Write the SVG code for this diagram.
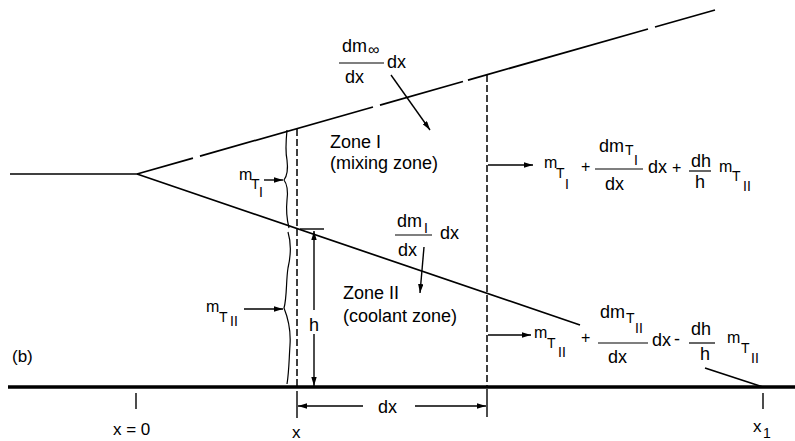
<svg xmlns="http://www.w3.org/2000/svg" width="795" height="441" viewBox="0 0 795 441">
<defs>
<marker id="ah" viewBox="0 0 10 6" refX="10" refY="3" markerWidth="9" markerHeight="5.4" markerUnits="userSpaceOnUse" orient="auto">
<path d="M0,0 L10,3 L0,6 z" fill="#000"/>
</marker>
</defs>
<style>
text{font-family:"Liberation Sans",Arial,sans-serif;fill:#000}
.t{font-size:18px}
.m{font-size:16px}
.s{font-size:14px}
.z{font-size:18px}
.a{font-size:17px}
.ln{stroke:#000;stroke-width:1.7;fill:none}
.th{stroke:#000;stroke-width:1.4;fill:none}
.ds{stroke:#000;stroke-width:1.5;fill:none;stroke-dasharray:7 3}
.ar{stroke:#000;stroke-width:1.4;fill:none;marker-end:url(#ah)}
.br{stroke:#000;stroke-width:1.2;fill:none}
.bar{stroke:#000;stroke-width:1.2}
</style>
<rect width="795" height="441" fill="#fff"/>

<g id="geometry">
<line class="ln" x1="10" y1="174" x2="137" y2="174"/>
<line class="ln" x1="137" y1="174" x2="193" y2="158.1"/>
<line class="ln" x1="200" y1="156.1" x2="373" y2="107"/>
<line class="ln" x1="380" y1="105.1" x2="463" y2="81.5"/>
<line class="ln" x1="468" y1="80.1" x2="648" y2="29"/>
<line class="ln" x1="655" y1="27" x2="715" y2="10"/>
<line class="ln" x1="137" y1="174" x2="580" y2="325"/>
<line class="ln" x1="705" y1="368" x2="763" y2="387"/>
<line x1="8" y1="387" x2="795" y2="387" stroke="#000" stroke-width="3.5"/>
<line class="ds" x1="297" y1="129" x2="297" y2="386"/>
<line class="ds" x1="487" y1="75" x2="487" y2="386"/>
<line class="th" x1="297" y1="391" x2="297" y2="418"/>
<line class="th" x1="487" y1="389" x2="487" y2="417"/>
<line class="th" x1="136" y1="393" x2="136" y2="409"/>
<line class="th" x1="763" y1="393" x2="763" y2="409"/>
</g>

<g id="braces">
<path class="br" d="M287,130 C286,140 285,150 287,160 C288,168 287,176 284,180 C287,184 288,192 287,200 C286,210 287,220 289,228"/>
<path class="br" d="M288,232 C291,242 291,255 288,268 C286,280 287,298 284,308 C288,318 291,330 290,345 C289,360 289,372 287,384"/>
</g>

<g id="connectors">
<line class="ar" x1="391" y1="75" x2="430" y2="130"/>
<line class="ar" x1="264" y1="180" x2="283" y2="180"/>
<line class="ar" x1="244" y1="309" x2="283" y2="309"/>
<line class="ar" x1="424" y1="247" x2="420" y2="293"/>
<line class="th" x1="300" y1="229" x2="324" y2="229"/>
<line class="ar" x1="314" y1="310" x2="314" y2="231"/>
<line class="ar" x1="314" y1="334" x2="314" y2="386"/>
<line class="ar" x1="488" y1="165" x2="533" y2="165"/>
<line class="ar" x1="488" y1="335" x2="531" y2="335"/>
<line class="ar" x1="363" y1="406" x2="298" y2="406"/>
<line class="ar" x1="415" y1="406" x2="486" y2="406"/>
</g>

<g id="label-dminf">
<text class="t" x="342" y="52">dm</text>
<text class="m" x="368" y="55">∞</text>
<line class="bar" x1="339" y1="63" x2="384" y2="63"/>
<text class="t" x="345" y="83">dx</text>
<text class="t" x="387" y="68">dx</text>
</g>

<g id="zone1">
<text class="z" x="330" y="148">Zone I</text>
<text class="z" x="330" y="169">(mixing zone)</text>
</g>

<g id="zone2">
<text class="z" x="343" y="299">Zone II</text>
<text class="z" x="343" y="322">(coolant zone)</text>
</g>

<g id="label-dmI">
<text class="t" x="397" y="227">dm</text>
<text class="s" x="424" y="233">I</text>
<line class="bar" x1="395" y1="235" x2="432" y2="235"/>
<text class="t" x="398" y="256">dx</text>
<text class="t" x="440" y="239">dx</text>
</g>

<g id="label-mTI">
<text class="m" x="239" y="180">m</text>
<text class="s" x="251" y="189">T</text>
<text class="s" x="259" y="197">I</text>
</g>

<g id="label-mTII">
<text class="m" x="206" y="312">m</text>
<text class="s" x="219" y="322">T</text>
<text class="s" x="230" y="326">II</text>
</g>

<g id="label-h">
<text class="t" x="309" y="331">h</text>
</g>

<g id="formula1">
<text class="m" x="544" y="168">m</text>
<text class="s" x="556" y="178">T</text>
<text class="s" x="565" y="189">I</text>
<text class="m" x="581" y="172">+</text>
<text class="t" x="599" y="152">dm</text>
<text class="s" x="625" y="155">T</text>
<text class="s" x="634" y="165">I</text>
<line class="bar" x1="595" y1="169" x2="643" y2="169"/>
<text class="t" x="605" y="190">dx</text>
<text class="t" x="648" y="173">dx</text>
<text class="m" x="672" y="173">+</text>
<text class="t" x="691" y="167">dh</text>
<line class="bar" x1="689" y1="171" x2="711" y2="171"/>
<text class="t" x="695" y="188">h</text>
<text class="m" x="719" y="172">m</text>
<text class="s" x="732" y="181">T</text>
<text class="s" x="743" y="191">II</text>
</g>

<g id="formula2">
<text class="m" x="534" y="338">m</text>
<text class="s" x="547" y="348">T</text>
<text class="s" x="558" y="357">II</text>
<text class="m" x="581" y="343">+</text>
<text class="t" x="600" y="318">dm</text>
<text class="s" x="626" y="323">T</text>
<text class="s" x="635" y="333">II</text>
<line class="bar" x1="598" y1="343" x2="648" y2="343"/>
<text class="t" x="608" y="363">dx</text>
<text class="t" x="652" y="346">dx</text>
<text class="t" x="674" y="345">-</text>
<text class="t" x="691" y="335">dh</text>
<line class="bar" x1="689" y1="343" x2="715" y2="343"/>
<text class="t" x="700" y="360">h</text>
<text class="m" x="727" y="343">m</text>
<text class="s" x="741" y="353">T</text>
<text class="s" x="751" y="363">II</text>
</g>

<g id="axis-labels">
<text class="a" x="12" y="362">(b)</text>
<text class="t" x="378" y="413">dx</text>
<text class="a" x="113" y="435">x = 0</text>
<text class="a" x="292" y="438">x</text>
<text class="a" x="753" y="432">x</text>
<text class="s" x="763" y="438">1</text>
</g>
</svg>
